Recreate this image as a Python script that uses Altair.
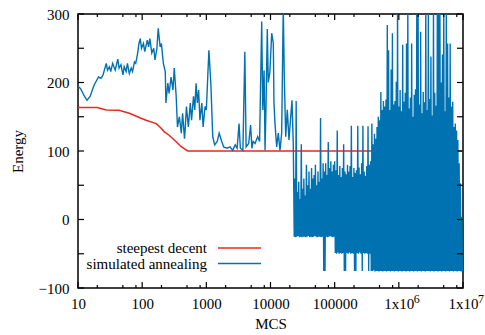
import altair as alt
import pandas as pd

# ---------------- data (x stored as log10(MCS)) ----------------
sd_log_mcs = [1.0, 1.3, 1.44, 1.64, 1.80, 1.955, 2.06, 2.22, 2.30, 2.345, 2.42, 2.53, 2.60, 2.66, 2.71, 7.0]
sd_energy = [163.5, 163.5, 160, 159.5, 155, 149, 145, 140, 133, 128, 123, 113.6, 107, 103, 100, 100]

sa_early_log_mcs = [
    1.00, 1.04, 1.10, 1.14, 1.19, 1.25, 1.32, 1.36, 1.39, 1.44, 1.46, 1.49, 1.51, 1.54, 1.58, 1.62,
    1.64, 1.67, 1.70, 1.72, 1.75, 1.77, 1.80, 1.83, 1.85, 1.88, 1.90, 1.93, 1.95, 1.97, 1.99, 2.02,
    2.04, 2.08, 2.10, 2.12, 2.15, 2.18, 2.20, 2.23, 2.25, 2.28, 2.30, 2.33, 2.36, 2.37, 2.40, 2.42,
    2.45, 2.48, 2.50, 2.53, 2.55, 2.58, 2.61, 2.63, 2.66, 2.67, 2.69, 2.72, 2.75, 2.77, 2.80, 2.82,
    2.84, 2.86, 2.88, 2.90, 2.93, 2.95, 2.98, 3.00, 3.04, 3.07, 3.10, 3.13, 3.17, 3.20, 3.24, 3.27,
    3.32, 3.37, 3.41, 3.45, 3.48, 3.51, 3.53, 3.57, 3.60, 3.62, 3.66, 3.69, 3.71, 3.73, 3.76, 3.80,
    3.83, 3.863, 3.88, 3.90, 3.915, 3.93, 3.95, 3.965, 3.99, 4.019, 4.044, 4.054, 4.07, 4.096, 4.121, 4.148,
    4.174, 4.199, 4.215, 4.237, 4.262, 4.288, 4.315, 4.335, 4.355,
]
sa_early_energy = [
    195, 191, 180, 174, 180, 196, 208, 206, 211, 228, 218, 223, 216, 228, 218, 234,
    221, 226, 211, 223, 216, 228, 213, 221, 216, 230, 228, 243, 257, 264, 250, 257,
    245, 262, 252, 264, 243, 250, 233, 250, 279, 252, 257, 228, 216, 170, 199, 184,
    208, 189, 221, 180, 135, 150, 126, 155, 118, 131, 165, 135, 170, 145, 180, 160,
    199, 170, 189, 145, 170, 135, 165, 160, 247, 199, 121, 109, 114, 126, 114, 106,
    104, 106, 101, 109, 104, 140, 104, 101, 245, 106, 111, 138, 104, 114, 111, 121,
    114, 289, 160, 218, 101, 165, 278, 200, 215, 272, 257, 170, 140, 106, 126, 101,
    126, 310, 208, 121, 160, 116, 150, 174, 111,
]

sa_late_log_mcs = [
    4.37, 4.38, 4.39, 4.40, 4.41, 4.42, 4.43, 4.44, 4.45, 4.46, 4.47, 4.48, 4.49, 4.50, 4.51, 4.52,
    4.53, 4.54, 4.55, 4.56, 4.57, 4.58, 4.59, 4.60, 4.61, 4.62, 4.63, 4.64, 4.65, 4.66, 4.67, 4.68,
    4.69, 4.70, 4.71, 4.72, 4.73, 4.74, 4.75, 4.76, 4.77, 4.78, 4.79, 4.80, 4.81, 4.82, 4.83, 4.84,
    4.85, 4.86, 4.87, 4.88, 4.89, 4.90, 4.91, 4.92, 4.93, 4.94, 4.95, 4.96, 4.97, 4.98, 4.99, 5.00,
    5.01, 5.02, 5.03, 5.04, 5.05, 5.06, 5.07, 5.08, 5.09, 5.10, 5.11, 5.12, 5.13, 5.14, 5.15, 5.16,
    5.17, 5.18, 5.19, 5.20, 5.21, 5.22, 5.23, 5.24, 5.25, 5.26, 5.27, 5.28, 5.29, 5.30, 5.31, 5.32,
    5.33, 5.34, 5.35, 5.36, 5.37, 5.38, 5.39, 5.40, 5.41, 5.42, 5.43, 5.44, 5.45, 5.46, 5.47, 5.48,
    5.49, 5.50, 5.51, 5.52, 5.53, 5.54, 5.55, 5.56, 5.57, 5.58, 5.59, 5.60, 5.61, 5.62, 5.63, 5.64,
    5.65, 5.66, 5.67, 5.68, 5.69, 5.70, 5.71, 5.72, 5.73, 5.74, 5.75, 5.76, 5.77, 5.78, 5.79, 5.80,
    5.81, 5.82, 5.83, 5.84, 5.85, 5.86, 5.87, 5.88, 5.89, 5.90, 5.91, 5.92, 5.93, 5.94, 5.95, 5.96,
    5.97, 5.98, 5.99, 6.00, 6.01, 6.02, 6.03, 6.04, 6.05, 6.06, 6.07, 6.08, 6.09, 6.10, 6.11, 6.12,
    6.13, 6.14, 6.15, 6.16, 6.17, 6.18, 6.19, 6.20, 6.21, 6.22, 6.23, 6.24, 6.25, 6.26, 6.27, 6.28,
    6.29, 6.30, 6.31, 6.32, 6.33, 6.34, 6.35, 6.36, 6.37, 6.38, 6.39, 6.40, 6.41, 6.42, 6.43, 6.44,
    6.45, 6.46, 6.47, 6.48, 6.49, 6.50, 6.51, 6.52, 6.53, 6.54, 6.55, 6.56, 6.57, 6.58, 6.59, 6.60,
    6.61, 6.62, 6.63, 6.64, 6.65, 6.66, 6.67, 6.68, 6.69, 6.70, 6.71, 6.72, 6.73, 6.74, 6.75, 6.76,
    6.77, 6.78, 6.79, 6.80, 6.81, 6.82, 6.83, 6.84, 6.85, 6.86, 6.87, 6.88, 6.89, 6.90, 6.91, 6.92,
    6.93, 6.94, 6.95, 6.96, 6.97, 6.98, 6.99, 7.00,
]
sa_late_energy = [
    -25, 60, -26, 173, -25, 40, -24, 55, -26, 30, -25, 110, -26, 45, -25, 60,
    -25, 35, -26, 80, -25, 50, -24, 70, -26, 45, -25, 75, -26, 60, -25, 65,
    -24, 80, -25, 50, -26, 70, -25, 55, -25, 148, -26, 60, -25, 82, -75, 70,
    -75, 82, -25, 65, -26, 113, -25, 75, -24, 85, -25, 70, -26, 80, -25, 85,
    -49, 72, -50, 130, -48, 65, -50, 78, -49, 62, -50, 75, -49, 110, -75, 70,
    -75, 66, -49, 80, -50, 70, -48, 78, -50, 137, -49, 62, -50, 75, -75, 68,
    -75, 72, -49, 137, -50, 76, -48, 66, -50, 82, -75, 137, -49, 70, -50, 64,
    -49, 78, -50, 136, -75, 80, -50, 85, -75, 140, -75, 110, -74, 125, -76, 118,
    -75, 135, -75, 150, -76, 145, -75, 186, -75, 160, -76, 173, -75, 165, -75, 175,
    -76, 284, -75, 247, -75, 160, -76, 219, -75, 272, -75, 168, -76, 173, -75, 201,
    -75, 310, -76, 165, -75, 189, -75, 158, -76, 255, -75, 172, -75, 185, -76, 257,
    -75, 310, -75, 162, -76, 178, -75, 257, -75, 150, -76, 182, -75, 190, -75, 310,
    -76, 310, -75, 168, -75, 274, -76, 155, -75, 186, -75, 171, -76, 310, -75, 160,
    -75, 310, -75, 176, -76, 238, -75, 152, -75, 310, -76, 185, -75, 166, -75, 310,
    -76, 310, -75, 310, -75, 200, -76, 241, -75, 310, -75, 158, -76, 310, -75, 257,
    -75, 178, -76, 257, -75, 165, -75, 172, -76, 135, -75, 140, -75, 130, -76, 116,
    -75, 82, -75, 53, -76, 4, -75, -75,
]

series_names = ["steepest decent", "simulated annealing"]
series_colors = ["#e8281e", "#0072b2"]

x_major = [10, 100, 1000, 10000, 100000, 1000000, 10000000]
x_labels = ["10", "100", "1000", "10000", "100000", "1x10", "1x10"]
x_exponent_ticks = [1000000, 10000000]
x_exponents = ["6", "7"]
x_minor = [20, 50, 80, 200, 500, 800, 2000, 5000, 8000, 20000, 50000, 80000,
           200000, 500000, 800000, 2000000, 5000000, 8000000]
y_major = [-100, -50, 0, 50, 100, 150, 200, 250, 300]

# ---------------- build ----------------
W, H = 385, 274
FONT = "Liberation Serif"

sd_df = pd.DataFrame({"mcs": [10 ** v for v in sd_log_mcs], "energy": sd_energy})
sa_log = sa_early_log_mcs + sa_late_log_mcs
sa_df = pd.DataFrame({"mcs": [10 ** v for v in sa_log],
                      "energy": sa_early_energy + sa_late_energy,
                      "i": list(range(len(sa_log)))})

xscale = alt.Scale(type="log", domain=[10, 1e7], nice=False)
yscale = alt.Scale(domain=[-100, 300], nice=False)

label_expr = " : ".join(f"datum.value == {v} ? '{l}'" for v, l in zip(x_major, x_labels)) + " : ''"

axis_common = dict(labelFont=FONT, titleFont=FONT, labelFontSize=15, titleFontSize=15,
                   labelColor="black", titleColor="black", titleFontWeight="normal",
                   tickSize=0, grid=False, domain=False)

x_axis = alt.Axis(values=x_major, labelExpr=label_expr, labelPadding=8,
                  title="MCS", titleX=W / 2, titleY=35,
                  titleBaseline="middle", titleAlign="center", labelFlush=False, **axis_common)
y_axis = alt.Axis(values=y_major, labelPadding=9,
                  title="Energy", titleX=-61, titleY=H / 2, titleAlign="center",
                  titleBaseline="middle", titleAngle=-90, **axis_common)

sd_line = alt.Chart(sd_df).mark_line(color=series_colors[0], strokeWidth=1.5, clip=True).encode(
    x=alt.X("mcs:Q", scale=xscale, axis=x_axis),
    y=alt.Y("energy:Q", scale=yscale, axis=y_axis),
)
sa_line = alt.Chart(sa_df).mark_line(color=series_colors[1], strokeWidth=1.4, clip=True).encode(
    x=alt.X("mcs:Q", scale=xscale),
    y=alt.Y("energy:Q", scale=yscale),
    order="i:Q",
)

# superscript exponents of the "1x10" tick labels
sup = alt.Chart(pd.DataFrame({"v": x_exponent_ticks, "t": x_exponents})).mark_text(
    font=FONT, fontSize=12, align="left", baseline="alphabetic", color="black", dx=15
).encode(x=alt.X("v:Q", scale=xscale), y=alt.value(H + 15), text="t:N")

xmaj_df = pd.DataFrame({"v": x_major})
xmin_df = pd.DataFrame({"v": x_minor})
ymaj_df = pd.DataFrame({"v": y_major})
tick_style = dict(color="black", strokeWidth=1.2)

ticks = [
    alt.Chart(xmaj_df).mark_rule(**tick_style).encode(x=alt.X("v:Q", scale=xscale), y=alt.value(H), y2=alt.value(H - 6)),
    alt.Chart(xmaj_df).mark_rule(**tick_style).encode(x=alt.X("v:Q", scale=xscale), y=alt.value(0), y2=alt.value(6)),
    alt.Chart(xmin_df).mark_rule(**tick_style).encode(x=alt.X("v:Q", scale=xscale), y=alt.value(H), y2=alt.value(H - 3)),
    alt.Chart(xmin_df).mark_rule(**tick_style).encode(x=alt.X("v:Q", scale=xscale), y=alt.value(0), y2=alt.value(3)),
    alt.Chart(ymaj_df).mark_rule(**tick_style).encode(y=alt.Y("v:Q", scale=yscale), x=alt.value(0), x2=alt.value(6)),
    alt.Chart(ymaj_df).mark_rule(**tick_style).encode(y=alt.Y("v:Q", scale=yscale), x=alt.value(W - 6), x2=alt.value(W)),
]

legend = []
for k, (name, col) in enumerate(zip(series_names, series_colors)):
    base_y = 239 + 15.5 * k
    legend.append(
        alt.Chart(pd.DataFrame({"t": [name]})).mark_text(
            font=FONT, fontSize=15, align="right", baseline="alphabetic", color="black"
        ).encode(text="t:N", x=alt.value(129), y=alt.value(base_y))
    )
    legend.append(
        alt.Chart(pd.DataFrame({"t": [name]})).mark_rule(color=col, strokeWidth=1.5).encode(
            x=alt.value(140), x2=alt.value(183), y=alt.value(base_y - 5)
        )
    )

chart = alt.layer(sd_line, sa_line, *ticks, sup, *legend).properties(
    width=W, height=H,
    background="white",
    autosize=alt.AutoSizeParams(type="none"),
    padding={"left": 78, "top": 14, "right": 22, "bottom": 47},
).configure_view(stroke="black", strokeWidth=1.5)

chart.save("out.html", embed_options={"renderer": "svg", "actions": False})
